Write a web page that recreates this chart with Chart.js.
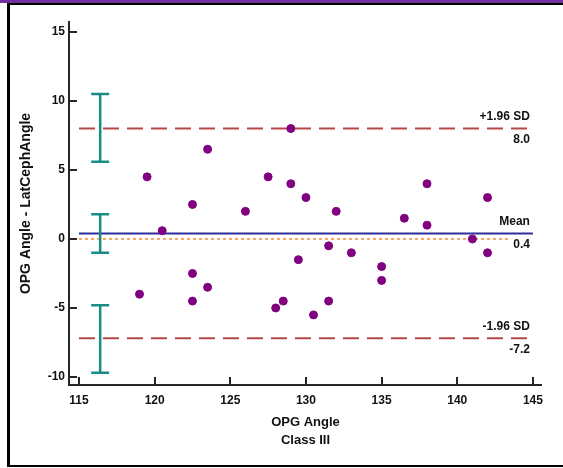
<!DOCTYPE html>
<html>
<head>
<meta charset="utf-8">
<script src="https://cdn.jsdelivr.net/npm/chart.js@4/dist/chart.umd.min.js"></script>
<style>
  html, body { margin: 0; padding: 0; background: #ffffff; }
  #wrap { position: relative; width: 563px; height: 468px; overflow: hidden; background: #fff; }
  #topbar { position: absolute; left: 0; top: 0; width: 563px; height: 3px; background: #7030a0; }
  #frame { position: absolute; left: 7px; top: 3px; width: 600px; height: 460px;
           border-left: 3px solid #000; border-top: 2px solid #000; border-bottom: 2px solid #000; }
  canvas { position: absolute; left: 0; top: 0; }
</style>
</head>
<body>
<div id="wrap">
  <div id="topbar"></div>
  <div id="frame"></div>
  <canvas id="c" width="563" height="468"></canvas>
</div>
<script>
// ---- data ----
const pointX = [119, 119.5, 120.5, 122.5, 122.5, 122.5, 123.5, 123.5, 126, 127.5, 128, 128.5, 129, 129, 129.5, 130, 130.5, 131.5, 131.5, 132, 133, 135, 135, 136.5, 138, 138, 141, 142, 142];
const pointY = [-4, 4.5, 0.6, 2.5, -2.5, -4.5, 6.5, -3.5, 2, 4.5, -5, -4.5, 8, 4, -1.5, 3, -5.5, -0.5, -4.5, 2, -1, -2, -3, 1.5, 4, 1, 0, -1, 3];
const meanDiff = 0.4;
const upperLoA = 8.0;
const lowerLoA = -7.2;
const zeroLine = 0;
const lineXRange = [115, 145];
const zeroXRange = [115, 143.4];
const ciX = 116.4;
const ciLow = [5.6, -1.0, -9.7];
const ciHigh = [10.5, 1.8, -4.8];
const xTicks = [115, 120, 125, 130, 135, 140, 145];
const yTicks = [-10, -5, 0, 5, 10, 15];
const lineLabels = [
  { value: upperLoA, top: '+1.96 SD', bottom: '8.0' },
  { value: meanDiff, top: 'Mean', bottom: '0.4' },
  { value: lowerLoA, top: '-1.96 SD', bottom: '-7.2' }
];
const xTitle = ['OPG Angle', 'Class III'];
const yTitle = 'OPG Angle - LatCephAngle';

const FONT = '"Liberation Sans", Arial, sans-serif';
const AXIS_COLOR = '#262626';

const points = pointX.map((x, i) => ({ x: x, y: pointY[i] }));
const hline = (y, r) => [{ x: r[0], y: y }, { x: r[1], y: y }];

const overlay = {
  id: 'overlay',
  afterDatasetsDraw(chart) {
    const ctx = chart.ctx;
    const xs = chart.scales.x, ys = chart.scales.y;
    ctx.save();
    // inward tick marks
    ctx.strokeStyle = AXIS_COLOR;
    ctx.lineWidth = 2;
    xTicks.forEach(v => {
      const px = Math.round(xs.getPixelForValue(v));
      ctx.beginPath(); ctx.moveTo(px, xs.top); ctx.lineTo(px, xs.top - 8); ctx.stroke();
    });
    yTicks.forEach(v => {
      const py = Math.round(ys.getPixelForValue(v));
      ctx.beginPath(); ctx.moveTo(ys.right, py); ctx.lineTo(ys.right + 8, py); ctx.stroke();
    });
    // confidence interval bars
    ctx.strokeStyle = '#1a8c88';
    ctx.lineWidth = 2.5;
    const cx = xs.getPixelForValue(ciX);
    ciLow.forEach((lo, i) => {
      const y1 = ys.getPixelForValue(ciHigh[i]);
      const y2 = ys.getPixelForValue(lo);
      ctx.beginPath();
      ctx.moveTo(cx, y1); ctx.lineTo(cx, y2);
      ctx.moveTo(cx - 9, y1); ctx.lineTo(cx + 9, y1);
      ctx.moveTo(cx - 9, y2); ctx.lineTo(cx + 9, y2);
      ctx.stroke();
    });
    // line labels
    ctx.fillStyle = '#111';
    ctx.font = 'bold 12px ' + FONT;
    ctx.textAlign = 'right';
    ctx.textBaseline = 'middle';
    const rx = xs.getPixelForValue(lineXRange[1]) - 3;
    lineLabels.forEach(l => {
      const py = ys.getPixelForValue(l.value);
      ctx.fillText(l.top, rx, py - 12);
      ctx.fillText(l.bottom, rx, py + 11);
    });
    ctx.restore();
  }
};

new Chart(document.getElementById('c'), {
  type: 'scatter',
  data: {
    datasets: [
      { data: hline(upperLoA, lineXRange), showLine: true, borderColor: '#b5494a', borderWidth: 2,
        borderDash: [16, 8], pointRadius: 0, order: 3 },
      { data: hline(lowerLoA, lineXRange), showLine: true, borderColor: '#b5494a', borderWidth: 2,
        borderDash: [16, 8], pointRadius: 0, order: 3 },
      { data: hline(zeroLine, zeroXRange), showLine: true, borderColor: '#f5923e', borderWidth: 1.6,
        borderDash: [3, 3], pointRadius: 0, order: 3 },
      { data: hline(meanDiff, lineXRange), showLine: true, borderColor: '#2e2e9a', borderWidth: 2,
        pointRadius: 0, order: 2 },
      { data: points, backgroundColor: '#80007f', borderColor: '#80007f', pointRadius: 4,
        pointHoverRadius: 4, order: 1 }
    ]
  },
  options: {
    responsive: false,
    animation: false,
    events: [],
    layout: { padding: { left: 0, top: 22, right: 21, bottom: 0 } },
    plugins: { legend: { display: false }, tooltip: { enabled: false } },
    scales: {
      x: {
        type: 'linear',
        min: 114.34,
        max: 145.6,
        afterFit(scale) { scale.height = 83; },
        afterBuildTicks(scale) { scale.ticks = xTicks.map(v => ({ value: v })); },
        grid: { display: true, drawOnChartArea: false, drawTicks: false, lineWidth: 0 },
        border: { display: true, color: AXIS_COLOR, width: 2 },
        ticks: { color: '#111', font: { family: FONT, size: 12, weight: 'bold' }, padding: 8, autoSkip: false, maxRotation: 0 },
        title: { display: true, text: xTitle, color: '#111',
                 font: { family: FONT, size: 13, weight: 'bold', lineHeight: 1.385 },
                 padding: { top: 0, bottom: 19 } }
      },
      y: {
        type: 'linear',
        min: -10.58,
        max: 15.72,
        afterFit(scale) { scale.width = 69; },
        afterBuildTicks(scale) { scale.ticks = yTicks.map(v => ({ value: v })); },
        grid: { display: true, drawOnChartArea: false, drawTicks: false, lineWidth: 0 },
        border: { display: true, color: AXIS_COLOR, width: 2 },
        ticks: { color: '#111', font: { family: FONT, size: 12, weight: 'bold' }, padding: 4, autoSkip: false },
        title: { display: true, text: yTitle, color: '#111',
                 font: { family: FONT, size: 14, weight: 'bold', lineHeight: 1.2 },
                 padding: { top: 18, bottom: 0 } }
      }
    }
  },
  plugins: [overlay]
});
</script>
</body>
</html>
